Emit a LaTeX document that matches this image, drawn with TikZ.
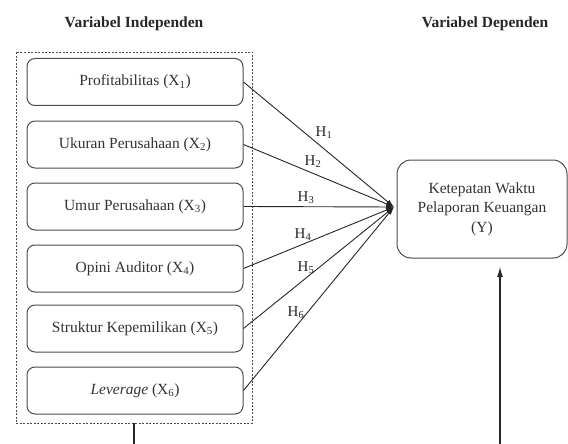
\documentclass[tikz,border=0pt]{standalone}
\usepackage{fontspec}
\setmainfont{Liberation Serif}
\usetikzlibrary{arrows.meta}
\begin{document}
\begin{tikzpicture}[x=1pt,y=-1pt,
  txt/.style={font=\fontsize{15.5}{19.5}\selectfont, text=black!80},
  title/.style={font=\fontsize{15.5}{19}\selectfont\bfseries, text=black!85},
  varbox/.style={txt, draw=black!70, line width=1pt, rounded corners=8pt,
    minimum width=216pt, minimum height=47pt, inner sep=0pt},
  depbox/.style={txt, draw=black!70, line width=1pt, rounded corners=14pt,
    minimum width=170pt, minimum height=98pt, align=center, inner sep=0pt},
  group/.style={draw=black!70, line width=0.7pt, dash pattern=on 2pt off 1.5pt,
    minimum width=236pt, minimum height=371pt, inner sep=0pt},
  hyp/.style={line width=0.9pt, draw=black!85, -{Latex[length=8pt,width=5pt]}},
  hlab/.style={font=\fontsize{15}{19}\selectfont, text=black!85, inner sep=0pt},
  link/.style={line width=1.1pt, draw=black!85}]
\useasboundingbox (0,0) rectangle (568,444);

\node[title] (ti) at (134,24) {Variabel Independen};
\node[title] (td) at (485,24) {Variabel Dependen};

\node[group] (grp) at (134,237.5) {};

\node[varbox] (x1) at (135,82)    {Profitabilitas (X\textsubscript{1})};
\node[varbox] (x2) at (135,144.5) {Ukuran Perusahaan (X\textsubscript{2})};
\node[varbox] (x3) at (135,206.5) {Umur Perusahaan (X\textsubscript{3})};
\node[varbox] (x4) at (135,268.5) {Opini Auditor (X\textsubscript{4})};
\node[varbox] (x5) at (135,328.5) {Struktur Kepemilikan (X\textsubscript{5})};
\node[varbox] (x6) at (135,390.5) {\textit{Leverage} (X\textsubscript{6})};

\node[depbox] (y) at (482,209) {Ketepatan Waktu\\Pelaporan Keuangan\\(Y)};

\coordinate (conv) at (394,207);
\foreach \i in {1,...,6} {
  \draw[hyp] (x\i.east) -- (conv);
}

\node[hlab] (h1) at (324,133) {H\textsubscript{1}};
\node[hlab] (h2) at (313,162) {H\textsubscript{2}};
\node[hlab] (h3) at (306,198) {H\textsubscript{3}};
\node[hlab] (h4) at (303,235) {H\textsubscript{4}};
\node[hlab] (h5) at (306,268) {H\textsubscript{5}};
\node[hlab] (h6) at (296,313) {H\textsubscript{6}};

\coordinate (gbot) at (grp.south |- 0,444);
\draw[link] (grp.south) -- (gbot);
\coordinate (abot) at (500,444);
\coordinate (atop) at (500,267);
\draw[link, -{Latex[length=10pt,width=6pt]}] (abot) -- (atop);
\end{tikzpicture}
\end{document}
